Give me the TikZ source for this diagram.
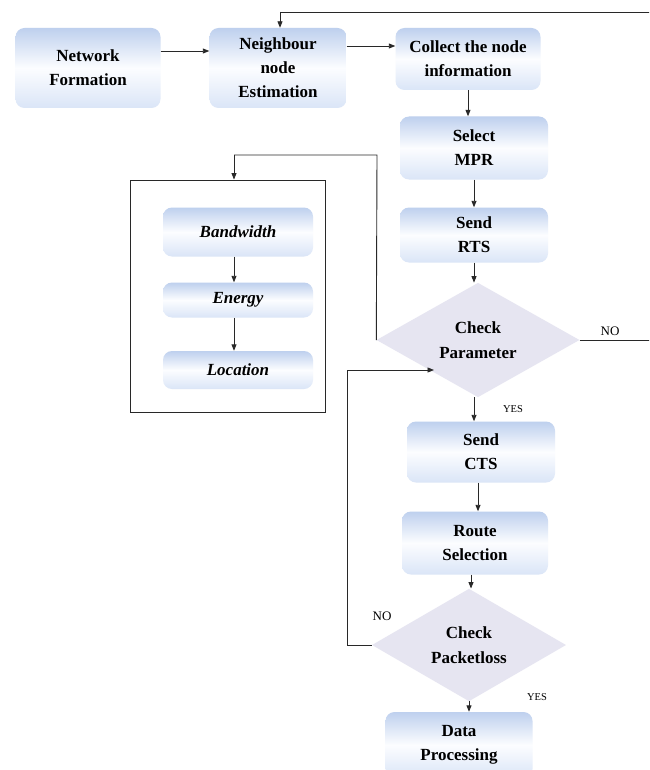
\documentclass[tikz,border=0pt]{standalone}
\usepackage{fontspec}
\setmainfont{Liberation Serif}
\newfontfamily\tnr{Liberation Serif}
\usetikzlibrary{shapes.geometric,arrows.meta}
\definecolor{boxedge}{RGB}{190,208,238}
\definecolor{boxmid}{RGB}{252,253,255}
\definecolor{boxbot}{RGB}{218,229,247}
\definecolor{diafill}{RGB}{230,229,241}
\definecolor{linec}{RGB}{40,40,40}
\tikzset{
  box/.style={rounded corners=9pt, top color=boxedge, bottom color=boxbot, middle color=boxmid,
    align=center, font=\tnr\fontsize{17}{24}\selectfont\bfseries, inner sep=0pt},
  ibox/.style={box, font=\tnr\fontsize{17}{22}\selectfont\bfseries\itshape},
  dia/.style={diamond, fill=diafill, inner sep=0pt, align=center,
    font=\tnr\fontsize{17}{25}\selectfont\bfseries},
  arr/.style={draw=linec, line width=0.9pt, -{Triangle[length=6.5pt,width=5pt]}},
  ln/.style={draw=linec, line width=0.9pt},
  lab/.style={font=\tnr\fontsize{13}{13}\selectfont, inner sep=0pt},
  slab/.style={font=\tnr\fontsize{10.5}{10.5}\selectfont, inner sep=0pt}
}
\begin{document}
\begin{tikzpicture}[x=1pt,y=-1pt]
\useasboundingbox (0,0) rectangle (649,770);
\clip (0,0) rectangle (649,770);
\fill[white] (0,0) rectangle (649,770);
% frame
\node[draw=linec, line width=0.9pt, minimum width=195pt, minimum height=232pt, inner sep=0pt] (frame) at (227.5,296) {};
% boxes
\node[box, minimum width=145pt, minimum height=80pt] (nf) at (88,68) {Network\\Formation};
\node[box, minimum width=137pt, minimum height=80pt] (ne) at (278,68) {Neighbour\\node\\Estimation};
\node[box, minimum width=145pt, minimum height=62pt] (co) at (468,59) {Collect the node\\information};
\node[box, minimum width=148pt, minimum height=63pt] (mpr) at (474,148) {Select\\MPR};
\node[box, minimum width=148pt, minimum height=55pt] (rts) at (474,235) {Send\\RTS};
\node[dia, minimum width=203pt, minimum height=114pt] (cp) at (478,340) {Check\\Parameter};
\node[box, minimum width=148pt, minimum height=61pt] (cts) at (481,452) {Send\\CTS};
\node[box, minimum width=146pt, minimum height=63pt] (rs) at (475,543) {Route\\Selection};
\node[dia, minimum width=194pt, minimum height=108pt] (pl) at (469,645) {Check\\Packetloss};
\node[box, minimum width=147pt, minimum height=66pt] (dp) at (459,745) {Data\\Processing};
\node[ibox, minimum width=150pt, minimum height=49pt] (bw) at (238,232) {Bandwidth};
\node[ibox, minimum width=150pt, minimum height=35pt] (en) at (238,300) {Energy};
\node[ibox, minimum width=150pt, minimum height=38pt] (lo) at (238,370) {Location};
% labels
\node[lab] (no1) at (610,331) {NO};
\node[slab] (yes1) at (513,409) {YES};
\node[lab] (no2) at (382,616) {NO};
\node[slab] (yes2) at (537,697) {YES};
% coordinates
\coordinate (tr) at (660,12);
\coordinate (tl) at (280,12);
\coordinate (ul) at (377,155);
\coordinate (ur) at (234,155);
\coordinate (ll) at (347,370);
\coordinate (lt) at (434,370);
% connectors
\draw[arr] (nf.east |- 0,51) -- (ne.west |- 0,51);
\draw[arr] (ne.east |- 0,46) -- (co.west |- 0,46);
\draw[arr] (co.south) -- (mpr.north -| co.south);
\draw[arr] (mpr.south) -- (rts.north);
\draw[arr] (rts.south) -- (cp.north -| rts.south);
\draw[arr] (cp.south -| rts.south) -- (cts.north -| rts.south);
\draw[arr] (cts.south -| 478,0) -- (rs.north -| 478,0);
\draw[arr] (rs.south -| 471,0) -- (pl.north -| 471,0);
\draw[arr] (pl.south) -- (dp.north -| pl.south);
\draw[arr] (bw.south -| 234,0) -- (en.north -| 234,0);
\draw[arr] (en.south -| 234,0) -- (lo.north -| 234,0);
\draw[ln] (cp.east) -- (cp.east -| tr) -- (tr) -- (tl);
\draw[arr] (tl) -- (tl |- ne.north);
\draw[ln] (cp.west) -- (ul) -- (ur);
\draw[arr] (ur) -- (ur |- frame.north);
\draw[ln] (pl.west) -- (pl.west -| ll) -- (ll);
\draw[arr] (ll) -- (lt);
\end{tikzpicture}
\end{document}
